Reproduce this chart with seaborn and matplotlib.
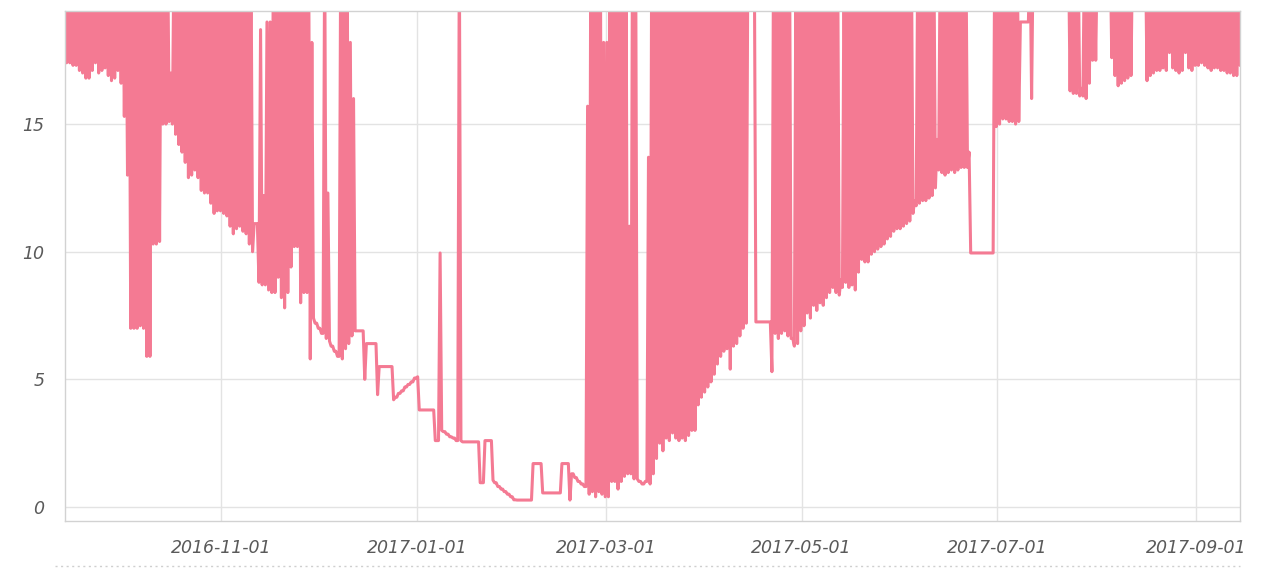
import numpy as np
import pandas as pd
import matplotlib
matplotlib.use("Agg")
import matplotlib.pyplot as plt
import matplotlib.dates as mdates
from matplotlib.lines import Line2D
import seaborn as sns

# ======================================================
# DATA (daily high / low)
# T = value above the visible range (line leaves the top)
# ======================================================
T = 22.0
START = "2016-09-13"

sep16_hi = [T] * 18
sep16_lo = [17.4, 17.4, 17.3, 17.3, 17.1, 17.0, 16.8, 16.8, 17.1, 17.4, 17.0, 17.1,
            17.2, 16.9, 16.7, 16.8, 17.1, 16.6]

oct16_hi = [T] * 15 + [17.0] + [T] * 15
oct16_lo = [15.3, 13.0, 7.0, 7.0, 7.0, 7.1, 7.0, 5.9, 5.9, 10.3, 10.3, 10.4, 15.0, 15.0,
            15.1, 15.0, 14.6, 14.2, 13.9, 13.5, 12.9, 13.0, 13.2, 12.9, 12.4, 12.3, 12.3,
            11.9, 11.5, 11.6, 11.6]

nov16_hi = [T] * 10 + [11.1, 11.1, 18.7, 12.2, 19.0, 19.0] + [T] * 12 + [18.2, 7.2]
nov16_lo = [11.5, 11.4, 11.0, 10.7, 10.9, 11.0, 10.8, 10.7, 10.3, 10.0, 11.1, 8.8, 8.7,
            8.7, 8.5, 8.4, 8.4, 9.0, 8.2, 7.8, 8.4, 9.4, 10.2, 10.2, 8.0, 8.4, 8.4, 5.8,
            7.4, 7.2]

dec16_hi = [7.0, 6.8, T, 12.3, 6.3, 6.1, 5.9, T, T, T, 18.2, 16.0, 6.9, 6.9, 6.9, 6.4,
            6.4, 6.4, 6.4, 5.5, 5.5, 5.5, 5.5, 5.5, 4.3, 4.45, 4.55, 4.7, 4.8, 4.9, 5.05]
dec16_lo = [7.0, 6.8, 6.6, 6.5, 6.3, 6.1, 5.9, 5.8, 6.2, 6.4, 6.7, 6.9, 6.9, 6.9, 5.0,
            6.4, 6.4, 6.4, 4.4, 5.5, 5.5, 5.5, 5.5, 4.2, 4.3, 4.45, 4.55, 4.7, 4.8, 4.9, 5.05]

jan17_hi = [5.1, 3.8, 3.8, 3.8, 3.8, 3.8, 2.6, 9.95, 2.95, 2.85, 2.75, 2.7, 2.6, T, 2.55,
            2.55, 2.55, 2.55, 2.55, 2.55, 0.95, 2.6, 2.6, 2.6, 0.95, 0.8, 0.7, 0.6, 0.5,
            0.4, 0.28]
jan17_lo = [3.8, 3.8, 3.8, 3.8, 3.8, 2.6, 2.6, 3.0, 2.95, 2.85, 2.75, 2.7, 2.6, 2.6, 2.55,
            2.55, 2.55, 2.55, 2.55, 0.95, 0.95, 2.6, 2.6, 1.05, 0.95, 0.8, 0.7, 0.6, 0.5,
            0.4, 0.28]

feb17_hi = [0.27, 0.27, 0.27, 0.27, 0.27, 1.7, 1.7, 1.7, 0.55, 0.55, 0.55, 0.55, 0.55,
            0.55, 1.7, 1.7, 1.7, 1.3, 1.15, 1.0, 0.9, 0.8, 15.7, T, T, T, T, 18.2]
feb17_lo = [0.27, 0.27, 0.27, 0.27, 0.27, 1.7, 1.7, 1.7, 0.55, 0.55, 0.55, 0.55, 0.55,
            0.55, 1.7, 1.7, 0.27, 1.3, 1.15, 1.0, 0.9, 0.8, 0.5, 0.6, 0.4, 0.6, 0.5, 0.4]

mar17_hi = [18.2] + [T] * 6 + [11.0, T, T, 1.0, 0.9, 1.0, 13.7] + [T] * 17
mar17_lo = [0.4, 1.0, 1.0, 0.7, 1.0, 1.2, 1.3, 1.3, 1.1, 1.1, 1.0, 0.9, 1.0, 0.9, 1.3,
            1.9, 2.5, 2.2, 2.7, 2.6, 2.9, 2.7, 2.6, 2.7, 2.6, 2.8, 3.0, 3.0, 4.0, 4.3, 4.5]

apr17_hi = [T] * 16 + [7.25, 7.25, 7.25, 7.25, 7.25] + [T] * 6 + [6.6, T, T]
apr17_lo = [4.7, 4.9, 5.2, 5.6, 5.9, 6.1, 6.2, 5.4, 6.3, 6.4, 6.7, 7.0, 7.2, T, T, 7.25,
            7.25, 7.25, 7.25, 7.25, 5.3, 6.8, 6.6, 6.8, 6.9, 6.7, 6.6, 6.3, 6.4, 6.9]

may17_hi = [T] * 12 + [8.9] + [T] * 18
may17_lo = [7.1, 7.6, 7.4, 7.9, 7.7, 8.0, 7.9, 8.2, 8.4, 8.6, 8.4, 8.3, 8.6, 8.8, 8.6,
            8.7, 8.5, 9.2, 9.7, 9.6, 9.6, 9.9, 10.0, 10.1, 10.2, 10.3, 10.5, 10.6, 10.8,
            10.9, 10.9]

jun17_hi = [T] * 4 + [12.0] + [T] * 6 + [14.4] + [T] * 9 + [13.9] + [9.95] * 7 + [T]
jun17_lo = [11.0, 11.1, 11.2, 11.5, 11.8, 11.9, 12.0, 12.0, 12.1, 12.2, 12.5, 13.2, 13.1,
            13.0, 13.1, 13.2, 13.1, 13.2, 13.3, 13.3, 13.3, 9.95, 9.95, 9.95, 9.95, 9.95,
            9.95, 9.95, 9.95, 14.9]

jul17_hi = [T] * 7 + [19.0, 19.0, 19.0] + [T] * 16 + [16.4, T, T, T, T]
jul17_lo = [15.0, 15.2, 15.2, 15.1, 15.1, 15.0, 15.1, 19.0, 19.0, 19.0, 16.0] + [T] * 11 + \
           [16.3, 16.2, 16.2, 16.1, 16.1, 16.0, 16.6, 17.5, 17.5]

aug17_hi = [T] * 31
aug17_lo = [T, T, T, T, 17.6, 16.9, 16.5, 16.6, 16.7, 16.8, 16.9, T, T, T, T, 16.7, 16.9,
            17.0, 17.1, 17.1, 17.2, 17.1, 17.8, 17.2, 17.1, 17.0, 17.1, 17.8, 17.2, 17.1,
            17.3]

sep17_hi = [T] * 14
sep17_lo = [17.3, 17.4, 17.3, 17.2, 17.1, 17.2, 17.2, 17.1, 17.1, 17.0, 17.0, 16.9, 16.9,
            17.3]

HIGHS = [sep16_hi, oct16_hi, nov16_hi, dec16_hi, jan17_hi, feb17_hi, mar17_hi,
         apr17_hi, may17_hi, jun17_hi, jul17_hi, aug17_hi, sep17_hi]
LOWS = [sep16_lo, oct16_lo, nov16_lo, dec16_lo, jan17_lo, feb17_lo, mar17_lo,
        apr17_lo, may17_lo, jun17_lo, jul17_lo, aug17_lo, sep17_lo]

TICK_DATES = ["2016-11-01", "2017-01-01", "2017-03-01", "2017-05-01", "2017-07-01",
              "2017-09-01"]
Y_TICKS = [0, 5, 10, 15]

PINK = "#f47a93"
GRID = "#e3e3e3"
SPINE = "#d2d2d2"
LABEL = "#5a5a5a"


# ======================================================
# BUILD SERIES
# ======================================================
def build_frame():
    hi = [v for month in HIGHS for v in month]
    lo = [v for month in LOWS for v in month]
    start = pd.Timestamp(START)
    rows = []
    for i, (h, l) in enumerate(zip(hi, lo)):
        rows.append({"time": start + pd.Timedelta(hours=24 * i + 6), "value": h})
        rows.append({"time": start + pd.Timedelta(hours=24 * i + 18), "value": l})
    return pd.DataFrame(rows)


# ======================================================
# PLOT
# ======================================================
def make_plot(df):
    sns.set_style("white")
    fig = plt.figure(figsize=(12.8, 5.72), dpi=100)
    ax = fig.add_axes([65 / 1280, 1 - 521 / 572, 1175 / 1280, 510 / 572])

    sns.lineplot(data=df, x="time", y="value", color=PINK, linewidth=2.2,
                 estimator=None, sort=False, ax=ax)

    ax.set_xlim(df["time"].iloc[0], df["time"].iloc[-1])
    ax.set_ylim(-0.55, 19.43)

    ax.set_xticks(pd.to_datetime(TICK_DATES))
    ax.xaxis.set_major_formatter(mdates.DateFormatter("%Y-%m-%d"))
    ax.set_yticks(Y_TICKS)

    ax.grid(True, color=GRID, linewidth=1)
    ax.set_axisbelow(True)
    for s in ax.spines.values():
        s.set_color(SPINE)
        s.set_linewidth(1)

    ax.tick_params(axis="both", length=0, colors=LABEL, labelsize=12.5)
    ax.tick_params(axis="x", pad=13)
    ax.tick_params(axis="y", pad=15)
    for lab in ax.get_xticklabels() + ax.get_yticklabels():
        lab.set_fontstyle("italic")

    ax.set_xlabel("")
    ax.set_ylabel("")

    # dotted separator under the chart
    fig.add_artist(Line2D([55 / 1280, 1240 / 1280], [1 - 566 / 572, 1 - 566 / 572],
                          color="#cfcfcf", linewidth=1, linestyle=(0, (1.5, 2.5)),
                          transform=fig.transFigure))

    fig.savefig("out.png", dpi=100)
    plt.close(fig)


if __name__ == "__main__":
    make_plot(build_frame())
